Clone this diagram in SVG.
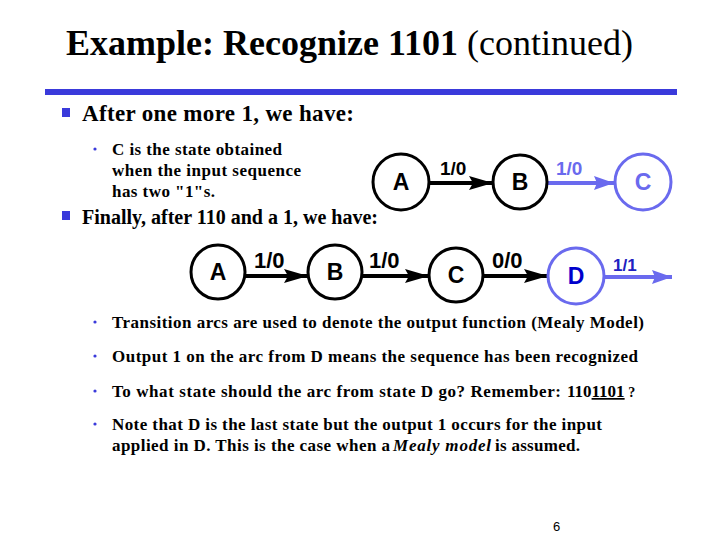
<svg xmlns="http://www.w3.org/2000/svg" width="720" height="540" viewBox="0 0 720 540">
<defs>
<style>
.t{font-family:"Liberation Serif","Times New Roman",serif;font-weight:bold;fill:#000}
.s{font-family:"Liberation Sans",Arial,sans-serif;font-weight:bold}
.n{fill:#fff;stroke:#000;stroke-width:3}
.nb{fill:#fff;stroke:#6a6aee;stroke-width:3}
.e{stroke:#000;stroke-width:4;fill:none}
.eb{stroke:#6a6aee;stroke-width:4;fill:none}
.sq{fill:#3a3adb}
</style>
<marker id="ah" markerUnits="userSpaceOnUse" markerWidth="26" markerHeight="16" refX="24" refY="8" orient="auto">
<path d="M0,1 L24,8 L0,15 L4,8 z" fill="#000"/>
</marker>
<marker id="ahb" markerUnits="userSpaceOnUse" markerWidth="22" markerHeight="16" refX="20" refY="8" orient="auto">
<path d="M0,1 L20,8 L0,15 L3,8 z" fill="#6a6aee"/>
</marker>
</defs>
<rect width="720" height="540" fill="#fff"/>
<text x="66" y="55" class="t" font-size="36">Example: Recognize 1101 <tspan font-weight="normal">(continued)</tspan></text>
<rect x="45" y="89" width="632" height="6" fill="#3a3adb"/>
<rect x="62" y="108" width="8" height="9" class="sq"/>
<text x="82" y="121" class="t" font-size="23" textLength="272">After one more 1, we have:</text>
<circle cx="95" cy="149" r="1.6" fill="#3a3adb"/>
<g class="t" font-size="17">
<text x="112" y="155" textLength="170">C is the state obtained</text>
<text x="112" y="176" textLength="189">when the input sequence</text>
<text x="112" y="197" textLength="103">has two "1"s.</text>
</g>
<rect x="62" y="211" width="8" height="9" class="sq"/>
<text x="82" y="224" class="t" font-size="20" textLength="296">Finally, after 110 and a 1, we have:</text>
<g id="connectors">
<line x1="430" y1="183" x2="493" y2="183" class="e" marker-end="url(#ah)"/>
<line x1="548" y1="183" x2="614" y2="183" class="eb" marker-end="url(#ahb)"/>
<line x1="246" y1="276" x2="308" y2="276" class="e" marker-end="url(#ah)"/>
<line x1="363" y1="276" x2="429" y2="276" class="e" marker-end="url(#ah)"/>
<line x1="484" y1="276" x2="548" y2="276" class="e" marker-end="url(#ah)"/>
<line x1="605" y1="277" x2="672" y2="277" class="eb" marker-end="url(#ahb)"/>
<text x="440" y="175" class="s" font-size="19" fill="#000">1/0</text>
<text x="556" y="175" class="s" font-size="19" fill="#6a6aee">1/0</text>
<text x="254" y="268" class="s" font-size="22" fill="#000">1/0</text>
<text x="369" y="268" class="s" font-size="22" fill="#000">1/0</text>
<text x="492" y="268" class="s" font-size="22" fill="#000">0/0</text>
<text x="613" y="271" class="s" font-size="17" fill="#2020c0">1/1</text>
</g>
<g id="top-A"><circle cx="401" cy="182" r="28" class="n"/><text x="401" y="190" class="s" font-size="23" text-anchor="middle">A</text></g>
<g id="top-B"><circle cx="520" cy="182" r="27" class="n"/><text x="520" y="190" class="s" font-size="23" text-anchor="middle">B</text></g>
<g id="top-C"><circle cx="643" cy="182" r="28" class="nb"/><text x="643" y="190" class="s" font-size="23" fill="#6a6aee" text-anchor="middle">C</text></g>
<g id="bot-A"><circle cx="218" cy="272" r="27" class="n"/><text x="218" y="280" class="s" font-size="23" text-anchor="middle">A</text></g>
<g id="bot-B"><circle cx="335" cy="272" r="27" class="n"/><text x="335" y="280" class="s" font-size="23" text-anchor="middle">B</text></g>
<g id="bot-C"><circle cx="456" cy="275" r="27" class="n"/><text x="456" y="283" class="s" font-size="23" text-anchor="middle">C</text></g>
<g id="bot-D"><circle cx="576" cy="276" r="28" class="nb"/><text x="576" y="284" class="s" font-size="23" fill="#0000cc" text-anchor="middle">D</text></g>
<g class="t" font-size="17">
<circle cx="95" cy="322" r="1.6" fill="#3a3adb"/>
<text x="112" y="328" textLength="532">Transition arcs are used to denote the output function (Mealy Model)</text>
<circle cx="95" cy="356" r="1.6" fill="#3a3adb"/>
<text x="112" y="362" textLength="526">Output 1 on the arc from D means the sequence has been recognized</text>
<circle cx="95" cy="391" r="1.6" fill="#3a3adb"/>
<text x="112" y="397" textLength="449">To what state should the arc from state D go? Remember:</text>
<text x="567" y="397">110<tspan text-decoration="underline">1101</tspan><tspan font-size="14"> ?</tspan></text>
<circle cx="95" cy="424" r="1.6" fill="#3a3adb"/>
<text x="112" y="430" textLength="490">Note that D is the last state but the output 1 occurs for the input</text>
<text x="112" y="451" textLength="278">applied in D. This is the case when a</text>
<text x="393" y="451" font-style="italic" textLength="98">Mealy model</text>
<text x="495" y="451" textLength="85">is assumed.</text>
</g>
<text x="553" y="531" font-family="Liberation Sans,Arial,sans-serif" font-size="13" fill="#000">6</text>
</svg>
